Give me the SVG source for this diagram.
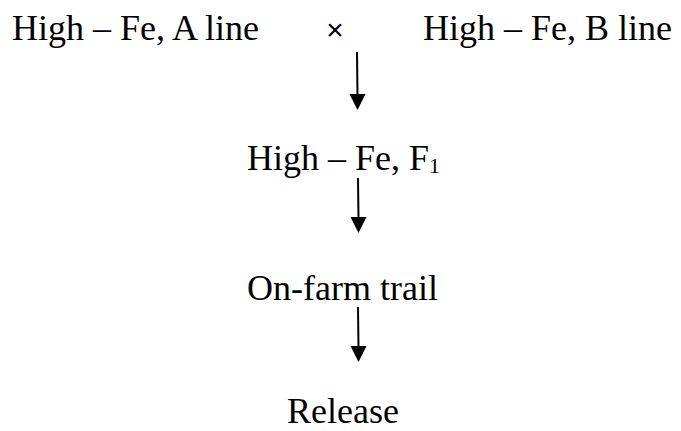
<svg xmlns="http://www.w3.org/2000/svg" width="681" height="431" viewBox="0 0 681 431">
<style>
text{font-family:"Liberation Serif","Times New Roman",serif;font-size:36px;fill:#000}
.ln{stroke:#000;stroke-width:2;fill:none}
.hd{fill:#000}
</style>
<rect width="681" height="431" fill="#fff"/>
<g id="nodeA"><text x="12" y="40">High – Fe, A line</text></g>
<g id="cross"><text x="335" y="40" text-anchor="middle" style="font-family:'Liberation Sans',sans-serif;font-size:30px">×</text></g>
<g id="nodeB"><text x="423" y="40">High – Fe, B line</text></g>
<g id="nodeF1"><text x="247" y="170">High – Fe, F<tspan font-size="22" dy="3">1</tspan></text></g>
<g id="nodeTrail"><text x="247" y="300">On-farm trail</text></g>
<g id="nodeRelease"><text x="287" y="423">Release</text></g>
<g id="connectors">
<line class="ln" x1="357" y1="52" x2="357.5" y2="96"/>
<polygon class="hd" points="349.5,94 365.5,94 357.5,110"/>
<line class="ln" x1="358" y1="178" x2="358.5" y2="219"/>
<polygon class="hd" points="350.5,217 366.5,217 358.5,233"/>
<line class="ln" x1="358" y1="307" x2="358.5" y2="348"/>
<polygon class="hd" points="350.5,346 366.5,346 358.5,362"/>
</g>
</svg>
